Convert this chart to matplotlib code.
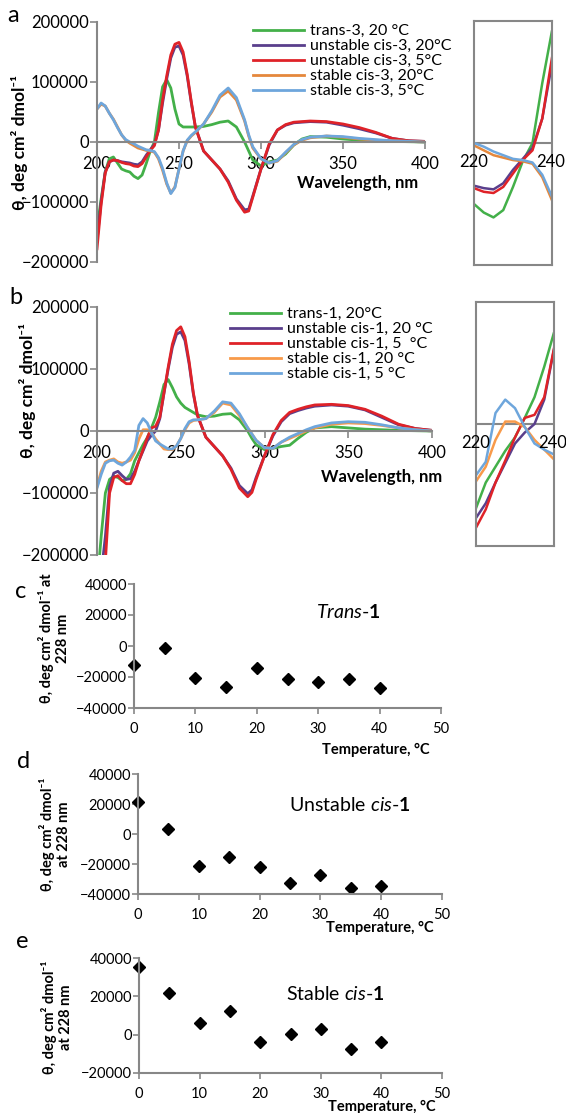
import numpy as np
import matplotlib.pyplot as plt

W, H = 566, 1113
plt.rcParams['font.family'] = ['Lato', 'DejaVu Sans']
plt.rcParams['mathtext.fontset'] = 'custom'
plt.rcParams['mathtext.rm'] = 'Lato'
plt.rcParams['mathtext.it'] = 'Lato:italic'
plt.rcParams['mathtext.bf'] = 'Lato:bold'

GRAY = '#878787'

# wavelength grid shared by the CD spectra (nm)
wl = [200, 202.5, 205, 207.5, 210, 212.5, 215, 217.5, 220, 222.5, 225, 227.5, 230,
      232.5, 235, 237.5, 240, 242.5, 245, 247.5, 250, 252.5, 255, 257.5, 260, 265,
      270, 275, 280, 285, 290, 292.5, 295, 300, 305, 310, 315, 320, 325, 330, 340,
      350, 360, 370, 380, 390, 400]

# panel a: compound 3
trans3_20 = [-145000, -95000, -50000, -28000, -25000, -35000, -45000, -48000, -50000,
             -57000, -61000, -55000, -36000, -15000, 0, 49000, 92000, 104000, 90000,
             55000, 30000, 25000, 25000, 25000, 25000, 26000, 29000, 33000, 35000,
             25000, 0, -15000, -30000, -40000, -33000, -30000, -20000, -5000, 5000,
             9000, 8000, 5000, 3000, 2000, 1000, 500, 0]
ucis3_20 = [-165000, -100000, -50000, -33000, -30000, -31000, -33000, -34000, -35000,
            -37000, -38000, -33000, -22000, -13000, -4000, 20000, 65000, 105000, 140000,
            158000, 160000, 145000, 110000, 65000, 25000, -15000, -30000, -45000, -65000,
            -95000, -113000, -112000, -90000, -45000, -5000, 20000, 28000, 32000, 33000,
            34000, 33000, 28000, 22000, 15000, 6000, 2000, 1000]
ucis3_5 = [-178000, -105000, -52000, -33000, -30000, -31000, -34000, -36000, -37000,
           -40000, -41000, -36000, -25000, -14000, -6000, 20000, 70000, 110000, 145000,
           163000, 166000, 150000, 113000, 67000, 25000, -15000, -30000, -45000, -67000,
           -97000, -117000, -115000, -92000, -45000, -3000, 20000, 29000, 33000, 34000,
           35000, 34000, 30000, 24000, 16000, 6000, 2000, 1000]
scis3_20 = [55000, 63000, 60000, 48000, 38000, 25000, 12000, 3000, -2000, -6000, -10000,
            -12000, -14000, -15000, -17000, -28000, -47000, -70000, -85000, -75000,
            -45000, -15000, 2000, 10000, 16000, 30000, 50000, 75000, 85000, 70000, 35000,
            10000, -10000, -28000, -35000, -32000, -18000, -5000, 3000, 7000, 10000,
            8000, 5000, 3000, 2000, 1000, 0]
scis3_5 = [55000, 65000, 60000, 48000, 37000, 24000, 12000, 4000, 0, -3000, -7000,
           -10000, -13000, -14000, -16000, -26000, -44000, -68000, -86000, -76000,
           -45000, -15000, 3000, 11000, 17000, 30000, 52000, 78000, 90000, 74000, 37000,
           12000, -8000, -28000, -35000, -31000, -17000, -4000, 4000, 8000, 10000, 9000,
           6000, 4000, 2000, 1000, 0]

# panel b: compound 1
trans1_20 = [-250000, -170000, -100000, -78000, -73000, -75000, -80000, -78000, -69000,
             -48000, -35000, -22000, -11000, 5000, 22000, 47000, 75000, 83000, 70000,
             55000, 45000, 38000, 34000, 30000, 26000, 23000, 24000, 27000, 28000, 18000,
             0, -12000, -22000, -30000, -28000, -25000, -23000, -12000, -2000, 5000, 7000,
             5000, 3000, 2000, 1000, 500, 0]
ucis1_20 = [-300000, -230000, -170000, -90000, -68000, -65000, -72000, -78000, -77000,
            -65000, -48000, -32000, -16000, -7000, 0, 20000, 61000, 100000, 135000,
            156000, 160000, 146000, 108000, 60000, 25000, -10000, -25000, -40000, -60000,
            -88000, -101000, -95000, -75000, -40000, -8000, 15000, 28000, 33000, 37000,
            40000, 42000, 40000, 34000, 22000, 10000, 4000, 1000]
ucis1_5 = [-320000, -260000, -210000, -100000, -75000, -72000, -80000, -85000, -85000,
           -70000, -48000, -30000, -11000, 5000, 7500, 22000, 62000, 103000, 140000,
           162000, 168000, 152000, 112000, 62000, 25000, -10000, -25000, -40000, -62000,
           -92000, -106000, -99000, -78000, -40000, -6000, 17000, 30000, 35000, 39000,
           42000, 43000, 41000, 35000, 24000, 11000, 4000, 1000]
scis1_20 = [-90000, -65000, -50000, -47000, -45000, -50000, -52000, -50000, -47000,
            -35000, -13000, 2000, 2000, -2500, -13000, -21000, -29000, -30000, -30000,
            -24000, -12000, 2000, 13000, 17000, 18000, 20000, 30000, 45000, 42000, 25000,
            5000, -5000, -15000, -27000, -28000, -18000, -12000, -6000, 0, 5000, 11000,
            13000, 12000, 9000, 5000, 2000, 0]
scis1_5 = [-92000, -70000, -52000, -48000, -47000, -52000, -55000, -50000, -42000,
           -31000, 9000, 20000, 13000, -2500, -16000, -21000, -25000, -29000, -29000,
           -24000, -12000, 4000, 15000, 18000, 18000, 20000, 32000, 47000, 45000, 28000,
           5000, -5000, -15000, -27000, -28000, -18000, -10000, -4000, 2000, 7000, 13000,
           15000, 14000, 10000, 5000, 2000, 0]

labels_a = ['trans-3, 20 °C', 'unstable cis-3, 20°C', 'unstable cis-3, 5°C',
            'stable cis-3, 20°C', 'stable cis-3, 5°C']
labels_b = ['trans-1, 20°C', 'unstable cis-1, 20 °C', 'unstable cis-1, 5  °C',
            'stable cis-1, 20 °C', 'stable cis-1, 5 °C']
colors_a = ['#43b049', '#5a3f8c', '#df2228', '#e5883c', '#6ea6dc']
colors_b = ['#43b049', '#5a3f8c', '#df2228', '#f89a4a', '#6ea6dc']

# panels c-e: theta at 228 nm vs temperature
temp = [0, 5, 10, 15, 20, 25, 30, 35, 40]
trans1_228 = [-12000, -1500, -20500, -26500, -14000, -21500, -23500, -21000, -27000]
ucis1_228 = [21500, 3500, -21000, -15000, -22000, -32500, -27500, -36000, -34500]
scis1_228 = [35500, 21500, 6000, 12500, -4000, 500, 3000, -7500, -4000]


def box(l, t, r, b):
    return [l / W, 1 - b / H, (r - l) / W, (b - t) / H]


fig = plt.figure(figsize=(W / 100, H / 100), dpi=100)


def spectrum(rect, inset_rect, series, labels, colors, leg_xy, xlab_xy, ylab_xy, letter_xy, letter):
    ax = fig.add_axes(box(*rect))
    for y, lab, c in zip(series, labels, colors):
        ax.plot(wl, y, color=c, lw=2.0, label=lab)
    ax.set_xlim(200, 400)
    ax.set_ylim(-200000, 200000)
    for s in ['top', 'right']:
        ax.spines[s].set_visible(False)
    ax.spines['bottom'].set_position(('data', 0))
    for s in ['left', 'bottom']:
        ax.spines[s].set_color(GRAY)
        ax.spines[s].set_linewidth(1.5)
    ax.set_xticks([200, 250, 300, 350, 400])
    ax.set_yticks([-200000, -100000, 0, 100000, 200000])
    ax.tick_params(axis='both', colors=GRAY, labelcolor='black', labelsize=12, length=5, width=1.2)
    ax.tick_params(axis='x', pad=5)
    ax.tick_params(axis='y', pad=1)
    ax.patch.set_alpha(0)
    ax.legend(loc='upper left', bbox_to_anchor=(leg_xy[0] / W, 1 - leg_xy[1] / H),
              bbox_transform=fig.transFigure, frameon=False, fontsize=11.5,
              handlelength=3.2, handletextpad=0.35, labelspacing=0.05, borderpad=0,
              borderaxespad=0)
    fig.text(xlab_xy[0] / W, 1 - xlab_xy[1] / H, 'Wavelength, nm', ha='center', va='center',
             fontsize=12, fontweight='bold')
    fig.text(ylab_xy[0] / W, 1 - ylab_xy[1] / H, 'θ, deg cm² dmol⁻¹', ha='center', va='center',
             rotation=90, fontsize=12.5, fontweight='bold')
    fig.text(letter_xy[0] / W, 1 - letter_xy[1] / H, letter, ha='center', va='center', fontsize=17)

    ins = fig.add_axes(box(*inset_rect))
    for y, c in zip(series, colors):
        ins.plot(wl, y, color=c, lw=1.8)
    ins.set_xlim(220, 240)
    ins.set_ylim(-100000, 100000)
    ins.axhline(0, color=GRAY, lw=1.5, zorder=0)
    for s in ins.spines.values():
        s.set_color(GRAY)
        s.set_linewidth(1.5)
    ins.set_xticks([])
    ins.set_yticks([])
    ins.text(220, -9000, '220', ha='center', va='top', fontsize=12, clip_on=False)
    ins.text(239.6, -9000, '240', ha='center', va='top', fontsize=12, clip_on=False)


spectrum((97, 22, 425, 262), (474, 21, 552, 265),
         [trans3_20, ucis3_20, ucis3_5, scis3_20, scis3_5], labels_a, colors_a,
         (253, 24), (358, 183), (20, 142), (13, 16), 'a')
spectrum((97, 307, 432, 555), (476, 302, 554, 546),
         [trans1_20, ucis1_20, ucis1_5, scis1_20, scis1_5], labels_b, colors_b,
         (230, 307), (382, 477), (27, 390), (16, 298), 'b')


def scatter(rect, vals, ylim, yticks, title, title_xy, ylab, ylab_xy, xlab_xy, letter_xy, letter):
    ax = fig.add_axes(box(*rect))
    ax.plot(temp, vals, 'D', color='black', ms=6.5, clip_on=False)
    ax.set_xlim(0, 50)
    ax.set_ylim(*ylim)
    ax.set_xticks([0, 10, 20, 30, 40, 50])
    ax.set_yticks(yticks)
    for s in ['top', 'right']:
        ax.spines[s].set_visible(False)
    for s in ['left', 'bottom']:
        ax.spines[s].set_color(GRAY)
        ax.spines[s].set_linewidth(1.5)
    ax.tick_params(axis='both', colors=GRAY, labelcolor='black', labelsize=10.5, length=4, width=1.2)
    ax.tick_params(axis='x', pad=6)
    ax.tick_params(axis='y', pad=1)
    ax.patch.set_alpha(0)
    fig.text(title_xy[0] / W, 1 - title_xy[1] / H, title, ha='center', va='center', fontsize=14)
    fig.text(ylab_xy[0] / W, 1 - ylab_xy[1] / H, ylab, ha='center', va='center', rotation=90,
             fontsize=10.5, fontweight='bold', linespacing=1.1)
    fig.text(xlab_xy[0] / W, 1 - xlab_xy[1] / H, 'Temperature, °C', ha='center', va='center',
             fontsize=10.5, fontweight='bold')
    fig.text(letter_xy[0] / W, 1 - letter_xy[1] / H, letter, ha='center', va='center', fontsize=17)


scatter((134, 584, 441, 708), trans1_228, (-40000, 40000), [-40000, -20000, 0, 20000, 40000],
        r'$\mathit{Trans}$-$\mathbf{1}$', (348, 612), 'θ, deg cm² dmol⁻¹ at\n228 nm', (54, 638),
        (376, 750), (21, 592), 'c')
scatter((138, 774, 442, 894), ucis1_228, (-40000, 40000), [-40000, -20000, 0, 20000, 40000],
        r'Unstable $\mathit{cis}$-$\mathbf{1}$', (350, 805), 'θ, deg cm² dmol⁻¹\nat 228 nm',
        (55, 834), (380, 928), (24, 762), 'd')
scatter((139, 958, 442, 1073), scis1_228, (-20000, 40000), [-20000, 0, 20000, 40000],
        r'Stable $\mathit{cis}$-$\mathbf{1}$', (335, 994), 'θ, deg cm² dmol⁻¹\nat 228 nm',
        (57, 1017), (382, 1107), (22, 942), 'e')

fig.savefig('out.png', dpi=100)
